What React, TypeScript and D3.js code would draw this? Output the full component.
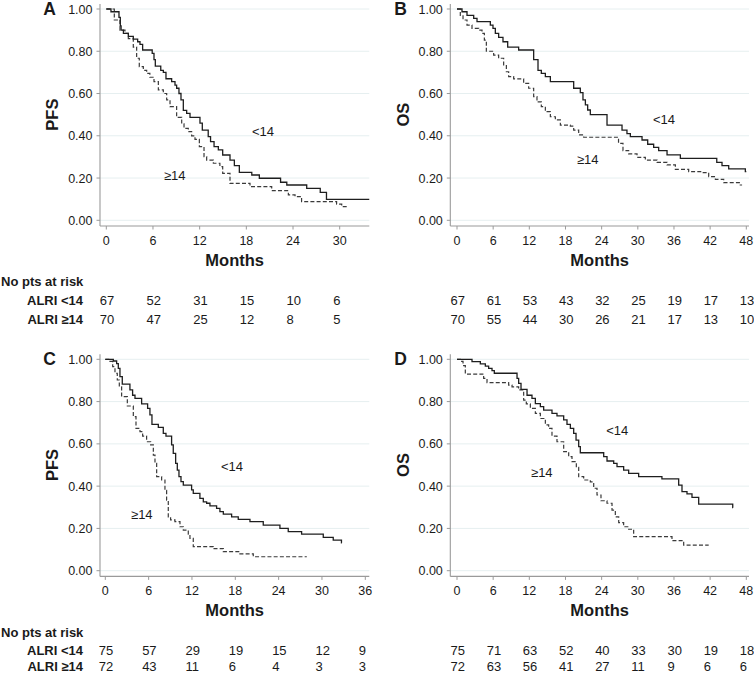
import React from "react";
import * as d3 from "d3";

// ---------- DATA ----------
// Kaplan-Meier step points: [month, survival] (drop time, new value)
const aLow: [number, number][] = [
  [0, 1], [0.6, 0.987], [1.63, 0.96], [1.8, 0.92], [1.9, 0.9], [2.2, 0.885], [2.83, 0.87],
  [3.47, 0.857], [4.03, 0.845], [4.33, 0.833], [4.67, 0.806], [5.9, 0.79], [6.13, 0.76],
  [6.3, 0.73], [7.0, 0.71], [7.33, 0.7], [7.67, 0.67], [8.4, 0.656], [8.83, 0.64], [9.04, 0.625],
  [9.34, 0.6], [9.6, 0.57], [9.9, 0.52], [10.33, 0.506], [10.76, 0.487], [12.04, 0.46],
  [12.34, 0.427], [13.1, 0.396], [13.4, 0.372], [13.85, 0.349], [14.4, 0.333], [14.96, 0.309],
  [15.9, 0.285], [16.46, 0.259], [17.1, 0.227], [18.7, 0.2145], [19.67, 0.199], [22.4, 0.18],
  [23.2, 0.167], [25.76, 0.151], [27.5, 0.132], [28.3, 0.099], [33.8, 0.099],
];
const aHigh: [number, number][] = [
  [0, 1], [1.03, 0.948], [1.76, 0.9], [2.4, 0.885], [2.83, 0.86], [3.47, 0.82], [3.9, 0.767],
  [4.24, 0.727], [4.76, 0.71], [5.19, 0.695], [5.6, 0.677], [6.13, 0.656], [6.69, 0.617],
  [7.33, 0.6], [7.76, 0.57], [8.19, 0.538], [9.04, 0.487], [9.69, 0.456], [9.99, 0.435],
  [10.54, 0.42], [10.97, 0.4], [11.4, 0.383], [11.96, 0.349], [12.56, 0.301], [12.9, 0.285],
  [13.76, 0.27], [14.6, 0.254], [14.96, 0.222], [15.9, 0.175], [18.47, 0.159], [21.26, 0.14],
  [23.4, 0.12], [24.26, 0.112], [25.1, 0.088], [29.6, 0.077], [30.26, 0.065], [30.9, 0.065],
];
const bLow: [number, number][] = [
  [0, 1], [0.83, 0.987], [1.66, 0.97], [2.77, 0.956], [3.32, 0.94], [5.53, 0.924], [5.97, 0.908],
  [6.36, 0.885], [6.91, 0.866], [7.63, 0.845], [8.41, 0.82], [10.23, 0.806], [12.72, 0.76],
  [13.44, 0.71], [13.99, 0.695], [14.66, 0.68], [15.49, 0.656], [19.36, 0.625], [20.46, 0.604],
  [20.9, 0.57], [21.3, 0.546], [21.68, 0.522], [22.12, 0.5], [24.89, 0.45], [27.38, 0.427],
  [28.2, 0.41], [28.76, 0.396], [30.7, 0.38], [31.64, 0.36], [32.63, 0.345], [33.46, 0.33],
  [34.85, 0.31], [37.06, 0.293], [43.1, 0.274], [43.97, 0.259], [45.08, 0.243], [47.84, 0.23],
  [48.0, 0.23],
];
const bHigh: [number, number][] = [
  [0, 1], [0.55, 0.97], [1.0, 0.948], [1.66, 0.924], [2.49, 0.908], [3.6, 0.9], [4.15, 0.885],
  [4.54, 0.853], [4.87, 0.8], [6.08, 0.782], [6.91, 0.767], [7.74, 0.735], [8.19, 0.703],
  [8.57, 0.68], [9.4, 0.669], [11.06, 0.648], [11.89, 0.625], [12.72, 0.585], [13.27, 0.56],
  [13.99, 0.538], [14.66, 0.514], [15.49, 0.49], [16.32, 0.475], [17.15, 0.45], [18.8, 0.446],
  [19.36, 0.427], [20.19, 0.404], [21.02, 0.393], [26.8, 0.364], [27.54, 0.33], [28.48, 0.314],
  [29.87, 0.298], [31.25, 0.285], [33.19, 0.274], [34.85, 0.262], [36.23, 0.241], [38.44, 0.23],
  [40.65, 0.226], [41.76, 0.207], [42.87, 0.194], [44.25, 0.178], [47.0, 0.167], [47.3, 0.167],
];
const cLow: [number, number][] = [
  [0, 1], [1.11, 0.992], [1.57, 0.98], [1.8, 0.957], [2.03, 0.918], [2.35, 0.883], [3.41, 0.855],
  [3.78, 0.83], [4.11, 0.815], [5.03, 0.789], [5.86, 0.768], [6.18, 0.737], [6.46, 0.692],
  [7.34, 0.678], [8.03, 0.65], [8.4, 0.637], [9.18, 0.595], [9.41, 0.555], [9.74, 0.508],
  [9.97, 0.476], [10.2, 0.445], [10.48, 0.421], [10.8, 0.405], [11.95, 0.382], [12.18, 0.366],
  [13.1, 0.342], [13.57, 0.326], [14.03, 0.319], [14.49, 0.307], [15.41, 0.295], [15.87, 0.279],
  [16.34, 0.268], [17.49, 0.255], [18.41, 0.243], [20.03, 0.232], [21.87, 0.216], [24.18, 0.2],
  [25.33, 0.185], [27.18, 0.173], [30.18, 0.158], [31.56, 0.145], [32.7, 0.132], [32.75, 0.132],
];
const cHigh: [number, number][] = [
  [0, 1], [0.65, 0.99], [1.02, 0.965], [1.34, 0.934], [1.66, 0.902], [1.94, 0.87], [2.26, 0.823],
  [3.05, 0.779], [3.88, 0.729], [4.25, 0.673], [4.8, 0.658], [5.17, 0.637], [5.72, 0.61],
  [6.28, 0.595], [6.65, 0.547], [6.88, 0.508], [7.11, 0.445], [7.8, 0.429], [8.26, 0.38],
  [8.49, 0.334], [8.72, 0.255], [9.04, 0.24], [9.64, 0.232], [10.34, 0.208], [10.8, 0.192],
  [11.49, 0.173], [11.72, 0.153], [12.18, 0.114], [14.95, 0.104], [16.34, 0.09], [18.64, 0.08],
  [20.49, 0.066], [27.9, 0.066],
];
const dLow: [number, number][] = [
  [0, 1], [2.49, 0.989], [3.87, 0.978], [4.7, 0.968], [5.25, 0.957], [5.81, 0.946], [6.19, 0.934],
  [9.96, 0.91], [10.23, 0.886], [10.62, 0.858], [11.62, 0.83], [12.44, 0.815], [13.0, 0.79],
  [13.83, 0.776], [14.38, 0.76], [15.76, 0.744], [16.59, 0.732], [17.7, 0.713], [18.25, 0.692],
  [18.81, 0.673], [19.36, 0.65], [19.75, 0.618], [20.19, 0.587], [20.46, 0.558], [24.34, 0.54],
  [24.89, 0.519], [26.0, 0.508], [26.55, 0.492], [27.65, 0.476], [28.48, 0.46], [30.14, 0.445],
  [34.0, 0.434], [36.78, 0.405], [37.33, 0.374], [38.16, 0.363], [38.99, 0.347], [40.1, 0.315],
  [45.75, 0.298], [45.8, 0.298],
];
const dHigh: [number, number][] = [
  [0, 1], [0.55, 0.99], [1.0, 0.97], [1.38, 0.93], [4.42, 0.91], [4.98, 0.89], [8.57, 0.878],
  [9.13, 0.87], [10.23, 0.855], [11.06, 0.807], [11.5, 0.789], [12.17, 0.768], [13.0, 0.744],
  [13.83, 0.72], [14.66, 0.69], [15.21, 0.673], [15.76, 0.637], [16.59, 0.61], [17.7, 0.563],
  [18.53, 0.54], [19.08, 0.516], [19.8, 0.489], [20.19, 0.445], [21.02, 0.429], [22.12, 0.42],
  [22.68, 0.39], [23.23, 0.358], [23.89, 0.331], [24.89, 0.319], [25.72, 0.287], [26.27, 0.255],
  [26.83, 0.227], [27.65, 0.208], [28.48, 0.196], [29.31, 0.161], [35.67, 0.142], [37.61, 0.121],
  [41.76, 0.121],
];

// Numbers at risk
const riskALow = [67, 52, 31, 15, 10, 6];
const riskAHigh = [70, 47, 25, 12, 8, 5];
const riskBLow = [67, 61, 53, 43, 32, 25, 19, 17, 13];
const riskBHigh = [70, 55, 44, 30, 26, 21, 17, 13, 10];
const riskCLow = [75, 57, 29, 19, 15, 12, 9];
const riskCHigh = [72, 43, 11, 6, 4, 3, 3];
const riskDLow = [75, 71, 63, 52, 40, 33, 30, 19, 18];
const riskDHigh = [72, 63, 56, 41, 27, 11, 9, 6, 6];

const yTicks = [0, 0.2, 0.4, 0.6, 0.8, 1.0];
const ticksA = [0, 6, 12, 18, 24, 30];
const ticksB = [0, 6, 12, 18, 24, 30, 36, 42, 48];
const ticksC = [0, 6, 12, 18, 24, 30, 36];
const ticksD = [0, 6, 12, 18, 24, 30, 36, 42, 48];

const groupLabels = ["ALRI <14", "ALRI \u226514"];
const curveLabels = ["<14", "\u226514"];

// ---------- LAYOUT ----------
const FONT = "'Liberation Sans', Arial, Helvetica, sans-serif";
const TXT = "#1a1a1a";
const AXIS = "#9a9a9a";
const GRID = "#e6eff0";

type Panel = {
  letter: string;
  yLabel: string;
  low: [number, number][];
  high: [number, number][];
  ticks: number[];
  riskLow: number[];
  riskHigh: number[];
  showRiskTitle: boolean;
  axisX: number;
  x0: number;
  xTickMax: number;
  xRight: number;
  yTop: number;
  yBottom: number;
  rowOffsets: number[];
  lowLabel: [number, number];
  highLabel: [number, number];
};

const panels: Panel[] = [
  {
    letter: "A", yLabel: "PFS", low: aLow, high: aHigh, ticks: ticksA,
    riskLow: riskALow, riskHigh: riskAHigh, showRiskTitle: true,
    axisX: 100, x0: 106.3, xTickMax: 339.7, xRight: 369.3, yTop: 9, yBottom: 220.3,
    rowOffsets: [66, 85, 103.4],
    lowLabel: [18.72, 0.397], highLabel: [7.41, 0.192],
  },
  {
    letter: "B", yLabel: "OS", low: bLow, high: bHigh, ticks: ticksB,
    riskLow: riskBLow, riskHigh: riskBHigh, showRiskTitle: false,
    axisX: 450.3, x0: 457, xTickMax: 746.3, xRight: 749, yTop: 9, yBottom: 220.3,
    rowOffsets: [66, 85, 103.4],
    lowLabel: [32.52, 0.456], highLabel: [19.91, 0.267],
  },
  {
    letter: "C", yLabel: "PFS", low: cLow, high: cHigh, ticks: ticksC,
    riskLow: riskCLow, riskHigh: riskCHigh, showRiskTitle: true,
    axisX: 100, x0: 105.3, xTickMax: 365.3, xRight: 369.3, yTop: 359.3, yBottom: 570.7,
    rowOffsets: [66, 84.5, 100.6],
    lowLabel: [16.02, 0.473], highLabel: [3.56, 0.245],
  },
  {
    letter: "D", yLabel: "OS", low: dLow, high: dHigh, ticks: ticksD,
    riskLow: riskDLow, riskHigh: riskDHigh, showRiskTitle: false,
    axisX: 450.3, x0: 457, xTickMax: 746.3, xRight: 749, yTop: 359.3, yBottom: 570.7,
    rowOffsets: [66, 84.5, 100.6],
    lowLabel: [24.77, 0.64], highLabel: [12.28, 0.443],
  },
];

function KMPanel({ p }: { p: Panel }) {
  const maxTick = p.ticks[p.ticks.length - 1];
  const x = d3.scaleLinear().domain([0, maxTick]).range([p.x0, p.xTickMax]);
  const y = d3.scaleLinear().domain([0, 1]).range([p.yBottom, p.yTop]);
  const line = d3
    .line<[number, number]>()
    .x((d) => x(d[0]))
    .y((d) => y(d[1]))
    .curve(d3.curveStepAfter);
  const xAxisY = p.yBottom + 5.7;
  const yAxisTop = p.yTop - 5;
  const fmt = d3.format(".2f");
  const tickBase = p.yBottom + 24.7;
  const monthsBase = p.yBottom + 45.5;
  const rowBase = p.rowOffsets.map((o) => p.yBottom + o);
  const mid = (p.axisX + p.xRight) / 2;
  const yMid = (p.yTop + p.yBottom) / 2;
  const labelX = p.axisX < 200 ? 58 : 408.7;
  const letterX = p.axisX < 200 ? 49.5 : 400.5;
  return (
    <g>
      {yTicks.map((t) => (
        <line key={"g" + t} x1={p.axisX} x2={p.xRight} y1={y(t)} y2={y(t)} stroke={GRID} strokeWidth={1} />
      ))}
      <line x1={p.axisX} x2={p.axisX} y1={yAxisTop} y2={xAxisY} stroke={AXIS} strokeWidth={1.1} />
      <line x1={p.axisX} x2={p.xRight} y1={xAxisY} y2={xAxisY} stroke={AXIS} strokeWidth={1.1} />
      {yTicks.map((t) => (
        <g key={"yt" + t}>
          <line x1={p.axisX - 3.5} x2={p.axisX} y1={y(t)} y2={y(t)} stroke={AXIS} strokeWidth={1} />
          <text x={p.axisX - 7.5} y={y(t) + 4.5} textAnchor="end" fontSize={12.5} fill={TXT} fontFamily={FONT}>
            {fmt(t)}
          </text>
        </g>
      ))}
      {p.ticks.map((t) => (
        <g key={"xt" + t}>
          <line x1={x(t)} x2={x(t)} y1={xAxisY} y2={xAxisY + 3.5} stroke={AXIS} strokeWidth={1} />
          <text x={x(t)} y={tickBase} textAnchor="middle" fontSize={12.5} fill={TXT} fontFamily={FONT}>
            {t}
          </text>
        </g>
      ))}
      <path d={line(p.high) || ""} fill="none" stroke="#3a3a3a" strokeWidth={1.2} strokeDasharray="4,2.2" />
      <path d={line(p.low) || ""} fill="none" stroke="#1e1e1e" strokeWidth={1.3} />
      <text x={x(p.lowLabel[0])} y={y(p.lowLabel[1])} fontSize={13} fill={TXT} fontFamily={FONT}>
        {curveLabels[0]}
      </text>
      <text x={x(p.highLabel[0])} y={y(p.highLabel[1])} fontSize={13} fill={TXT} fontFamily={FONT}>
        {curveLabels[1]}
      </text>
      <text x={mid} y={monthsBase} textAnchor="middle" fontSize={16.5} fontWeight="bold" fill={TXT} fontFamily={FONT}>
        Months
      </text>
      <text
        transform={`translate(${labelX},${yMid}) rotate(-90)`}
        textAnchor="middle"
        fontSize={16.5}
        fontWeight="bold"
        fill={TXT}
        fontFamily={FONT}
      >
        {p.yLabel}
      </text>
      <text x={letterX} y={p.yTop + 6} textAnchor="middle" fontSize={17.5} fontWeight="bold" fill={TXT} fontFamily={FONT}>
        {p.letter}
      </text>
      {p.showRiskTitle && (
        <>
          <text x={1} y={rowBase[0]} fontSize={13} fontWeight="bold" fill={TXT} fontFamily={FONT}>
            No pts at risk
          </text>
          <text x={83} y={rowBase[1]} textAnchor="end" fontSize={13} fontWeight="bold" fill={TXT} fontFamily={FONT}>
            {groupLabels[0]}
          </text>
          <text x={83} y={rowBase[2]} textAnchor="end" fontSize={13} fontWeight="bold" fill={TXT} fontFamily={FONT}>
            {groupLabels[1]}
          </text>
        </>
      )}
      {p.riskLow.map((n, i) => (
        <text key={"rl" + i} x={x(p.ticks[i]) - 6.5} y={rowBase[1]} fontSize={13} fill={TXT} fontFamily={FONT}>
          {n}
        </text>
      ))}
      {p.riskHigh.map((n, i) => (
        <text key={"rh" + i} x={x(p.ticks[i]) - 6.5} y={rowBase[2]} fontSize={13} fill={TXT} fontFamily={FONT}>
          {n}
        </text>
      ))}
    </g>
  );
}

export default function App() {
  return (
    <svg
      width={754}
      height={674}
      viewBox="0 0 754 674"
      style={{ position: "absolute", left: 0, top: 0, background: "#fff", display: "block" }}
    >
      <rect x={0} y={0} width={754} height={674} fill="#fff" />
      {panels.map((p) => (
        <KMPanel key={p.letter} p={p} />
      ))}
    </svg>
  );
}
